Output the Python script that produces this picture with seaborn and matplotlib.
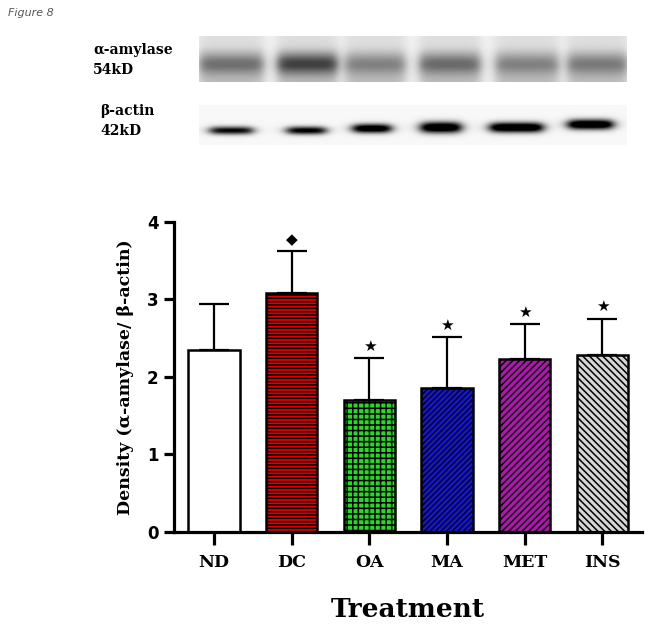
import numpy as np
import pandas as pd
import matplotlib
matplotlib.use("Agg")
import matplotlib.pyplot as plt
import seaborn as sns

# ---------------- data ----------------
treatments = ["ND", "DC", "OA", "MA", "MET", "INS"]
density_mean = [2.34, 3.08, 1.70, 1.86, 2.23, 2.28]
density_sd = [0.60, 0.54, 0.54, 0.65, 0.45, 0.47]
significance = ["", "\u25C6", "\u2605", "\u2605", "\u2605", "\u2605"]
bar_colors = ["#ffffff", "#e00000", "#22dd22", "#1414e6", "#b414b4", "#d6d6d6"]
bar_hatches = ["", "-----", "+++", "//////", "/////", "\\\\\\\\\\"]

# western blot band intensities (relative darkness per lane)
amylase_band = [0.33, 0.52, 0.26, 0.35, 0.26, 0.29]
actin_band = [0.75, 0.80, 0.95, 1.00, 1.00, 1.00]
blot_labels = ["\u03b1-amylase\n54kD", "\u03b2-actin\n42kD"]

# ---------------- style ----------------
sns.set_theme(style="ticks")
plt.rcParams["font.family"] = ["DejaVu Serif", "DejaVu Sans"]
plt.rcParams["hatch.linewidth"] = 1.1
plt.rcParams["hatch.color"] = "black"
plt.rcParams["text.color"] = "black"
plt.rcParams["axes.labelcolor"] = "black"
plt.rcParams["xtick.color"] = "black"
plt.rcParams["ytick.color"] = "black"
plt.rcParams["axes.edgecolor"] = "black"

fig = plt.figure(figsize=(6.53, 6.25), dpi=100)

# ---------------- blot images ----------------
def lane_profile(W, start, end, soft=3.0):
    x = np.arange(W)
    return (1 / (1 + np.exp(-(x - start) / soft))) * (1 / (1 + np.exp((x - end) / soft)))

W = 428
# amylase panel
H1 = 46
amy_lanes = [(0, 64), (78, 138), (146, 206), (220, 281), (296, 359), (368, 428)]
rows = np.arange(H1)[:, None]
img1 = np.full((H1, W), 0.95)
for (s, e), amp in zip(amy_lanes, amylase_band):
    hp = lane_profile(W, s, e, soft=3.0)[None, :]
    vp = np.exp(-((rows - 27) / 11.0) ** 2)
    smear = 0.08 + 0.12 * np.clip((rows - 10) / 20.0, 0, 1)
    img1 -= hp * (smear + amp * vp)
img1 = np.clip(img1, 0, 1)

# actin panel
H2 = 40
act_lanes = [(11, 53), (88, 126), (154, 191), (222, 261), (291, 343), (369, 413)]
act_rows = [25, 25, 23, 22, 22, 19]
act_sigma = [4.0, 4.0, 4.5, 5.5, 5.0, 5.0]
rows2 = np.arange(H2)[:, None]
img2 = np.full((H2, W), 0.97)
for (s, e), amp, r, sg in zip(act_lanes, actin_band, act_rows, act_sigma):
    hp = lane_profile(W, s, e, soft=3.5)[None, :]
    vp = np.exp(-((rows2 - r) / sg) ** 2)
    img2 -= np.minimum(0.97, 1.3 * amp * hp * vp)
img2 = np.clip(img2, 0, 1)

ax_b1 = fig.add_axes([199 / 653, 1 - 82 / 625, 428 / 653, 46 / 625])
ax_b1.imshow(img1, cmap="gray", vmin=0, vmax=1, aspect="auto", interpolation="bilinear")
ax_b1.axis("off")
ax_b2 = fig.add_axes([199 / 653, 1 - 145 / 625, 428 / 653, 40 / 625])
ax_b2.imshow(img2, cmap="gray", vmin=0, vmax=1, aspect="auto", interpolation="bilinear")
ax_b2.axis("off")

fig.text(93 / 653, 1 - 60 / 625, blot_labels[0], fontsize=10, fontweight="bold",
         family="DejaVu Serif", ha="left", va="center", linespacing=1.5)
fig.text(100 / 653, 1 - 121 / 625, blot_labels[1], fontsize=10, fontweight="bold",
         family="DejaVu Serif", ha="left", va="center", linespacing=1.5)
fig.text(8 / 653, 1 - 13 / 625, "Figure 8", fontsize=8, style="italic",
         family="DejaVu Sans", color="#555555", ha="left", va="center")

# ---------------- bar chart ----------------
ax = fig.add_axes([174 / 653, 1 - 531.7 / 625, 468 / 653, 310 / 625])
df = pd.DataFrame({"Treatment": treatments, "Density": density_mean})
sns.barplot(data=df, x="Treatment", y="Density", hue="Treatment",
            palette=bar_colors, legend=False, errorbar=None, width=0.663,
            edgecolor="black", linewidth=1.8, saturation=1, ax=ax)
for cont, h in zip(ax.containers, bar_hatches):
    for bar in cont:
        bar.set_hatch(h)
        bar.set_edgecolor("black")

xpos = np.arange(len(treatments))
ax.errorbar(xpos, density_mean, yerr=[np.zeros(len(xpos)), density_sd], fmt="none",
            ecolor="black", elinewidth=1.6, capsize=11, capthick=1.6, zorder=1)

for i, s in enumerate(significance):
    if s:
        ax.annotate(s, (xpos[i], density_mean[i] + density_sd[i]), xytext=(0, 3),
                    textcoords="offset points", ha="center", va="bottom",
                    fontsize=11, family="DejaVu Sans", color="black")

ax.set_xlim(-0.515, 5.51)
ax.set_ylim(0, 4)
ax.set_yticks([0, 1, 2, 3, 4])
sns.despine(ax=ax)
for sp in ["left", "bottom"]:
    ax.spines[sp].set_linewidth(2.3)
    ax.spines[sp].set_color("black")
ax.tick_params(axis="y", width=2.3, length=7, pad=4, labelsize=12, colors="black")
ax.tick_params(axis="x", width=2.3, length=9, pad=7, labelsize=12.5, colors="black")
for lbl in ax.get_yticklabels():
    lbl.set_family("DejaVu Sans")
    lbl.set_fontweight("bold")
for lbl in ax.get_xticklabels():
    lbl.set_family("DejaVu Serif")
    lbl.set_fontweight("bold")

ax.set_xlabel("Treatment", fontsize=19, fontweight="bold", family="DejaVu Serif",
              color="black")
ax.set_ylabel("Density (\u03b1-amylase/ \u03b2-actin)", fontsize=12.5,
              fontweight="bold", family="DejaVu Serif", color="black")
ax.xaxis.set_label_coords(0.5, -0.21)
ax.yaxis.set_label_coords(-0.085, 0.5)

fig.savefig("out.png", dpi=100)
